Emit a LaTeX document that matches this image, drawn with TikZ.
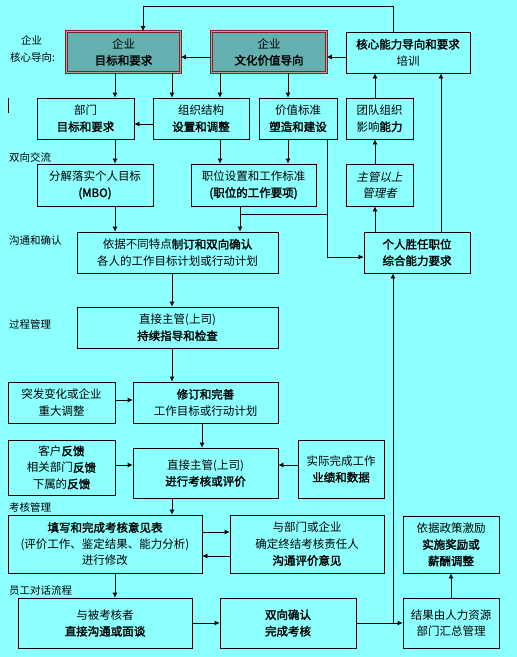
\documentclass[tikz,border=0pt]{standalone}
\usepackage{fontspec}
\setmainfont{Noto Sans CJK SC}[AutoFakeBold=2,AutoFakeSlant=0.2]
\usetikzlibrary{arrows.meta}
\definecolor{bgc}{RGB}{140,255,255}
\definecolor{tealf}{RGB}{100,176,176}
\definecolor{dred}{RGB}{128,32,40}
\definecolor{gborder}{RGB}{168,168,168}
\begin{document}
\begin{tikzpicture}[x=1pt,y=-1pt,
  box/.style={draw, line width=0.8pt, align=center, inner sep=0pt, font=\fontsize{11.5}{16.5}\selectfont},
  core/.style={box, fill=tealf, draw=dred, double=gborder, double distance=1.3pt, line width=1pt},
  arr/.style={-{Latex[length=5pt,width=5pt]}, line width=0.8pt},
  ln/.style={line width=0.8pt},
  lab/.style={anchor=west, inner sep=0pt, font=\fontsize{10.5}{12}\selectfont}]
\fill[bgc] (0,0) rectangle (517,657);
\useasboundingbox (0,0) rectangle (517,657);

% side labels
\node[lab] (l1) at (21,40) {企业};
\node[lab] (l2) at (10,57) {核心导向:};
\node[lab] (l3) at (9,157) {双向交流};
\node[lab] (l4) at (9,240) {沟通和确认};
\node[lab] (l5) at (9,324) {过程管理};
\node[lab] (l6) at (9,507) {考核管理};
\node[lab] (l7) at (9,591) {员工对话流程};
\draw[line width=1.6pt] (8.5,98) -- (8.5,113);

% boxes
\node[core, minimum width=113.7pt, minimum height=40.7pt] (n1) at (123.5,52) {企业\\\textbf{目标和要求}};
\node[core, minimum width=114.7pt, minimum height=40.7pt] (n2) at (269,52) {企业\\\textbf{文化价值导向}};
\node[box, minimum width=124pt, minimum height=41pt] (n3) at (408,52.5) {\textbf{核心能力导向和要求}\\培训};
\node[box, minimum width=97pt, minimum height=41pt] (n4) at (85.5,118.5) {部门\\\textbf{目标和要求}};
\node[box, minimum width=96pt, minimum height=41pt] (n5) at (201,118.5) {组织结构\\\textbf{设置和调整}};
\node[box, minimum width=78pt, minimum height=41pt] (n6) at (298,118.5) {价值标准\\\textbf{塑造和建设}};
\node[box, minimum width=67pt, minimum height=41pt] (n7) at (379.5,118.5) {团队组织\\影响\textbf{能力}};
\node[box, minimum width=116pt, minimum height=42pt] (n8) at (95,185) {分解落实个人目标\\\textbf{(MBO)}};
\node[box, minimum width=125pt, minimum height=42pt] (n9) at (253.5,185) {职位设置和工作标准\\\textbf{(职位的工作要项)}};
\node[box, minimum width=67pt, minimum height=42pt] (n10) at (379.5,185) {\textit{主管以上}\\\textit{管理者}};
\node[box, minimum width=201pt, minimum height=41pt] (n11) at (177.5,252.5) {依据不同特点\textbf{制订和双向确认}\\各人的工作目标计划或行动计划};
\node[box, minimum width=106pt, minimum height=41pt] (n12) at (417,252.5) {\textbf{个人胜任职位}\\\textbf{综合能力要求}};
\node[box, minimum width=201pt, minimum height=41pt] (n13) at (177.5,327.5) {直接主管(上司)\\\textbf{持续指导和检查}};
\node[box, minimum width=107pt, minimum height=41pt] (n14) at (61.5,402.5) {突发变化或企业\\重大调整};
\node[box, minimum width=145pt, minimum height=41pt] (n15) at (205.5,402.5) {\textbf{修订和完善}\\工作目标或行动计划};
\node[box, minimum width=107pt, minimum height=55pt] (n16) at (61.5,467.5) {客户\textbf{反馈}\\相关部门\textbf{反馈}\\下属的\textbf{反馈}};
\node[box, minimum width=145pt, minimum height=50pt] (n17) at (205.5,473) {直接主管(上司)\\\textbf{进行考核或评价}};
\node[box, minimum width=86pt, minimum height=58pt] (n18) at (341,469) {实际完成工作\\\textbf{业绩和数据}};
\node[box, minimum width=194pt, minimum height=58pt] (n19) at (105,544) {\textbf{填写和完成考核意见表}\\(评价工作、鉴定结果、能力分析)\\进行修改};
\node[box, minimum width=154pt, minimum height=58pt] (n20) at (307,544) {与部门或企业\\确定终结考核责任人\\\textbf{沟通评价意见}};
\node[box, minimum width=96pt, minimum height=57pt] (n21) at (451,544.5) {依据政策激励\\\textbf{实施奖励或}\\\textbf{薪酬调整}};
\node[box, minimum width=174pt, minimum height=50pt] (n22) at (105,623) {与被考核者\\\textbf{直接沟通或面谈}};
\node[box, minimum width=136pt, minimum height=50pt] (n23) at (288,623) {\textbf{双向确认}\\\textbf{完成考核}};
\node[box, minimum width=96pt, minimum height=50pt] (n24) at (451,623) {结果由人力资源\\部门汇总管理};

% helper coordinates
\coordinate (X115) at (115,0);
\coordinate (X172) at (172,0);
\coordinate (X202) at (202,0);
\coordinate (X220) at (220,0);
\coordinate (X240) at (240,0);
\coordinate (X288) at (288,0);
\coordinate (X327) at (327,0);
\coordinate (X375) at (375,0);
\coordinate (X393) at (393,0);
\coordinate (X441) at (441,0);
\coordinate (X451) at (451,0);
\coordinate (Y57) at (0,57);
\coordinate (Y124) at (0,124);
\coordinate (Y214) at (0,214);
\coordinate (Y257) at (0,257);
\coordinate (Y400) at (0,400);
\coordinate (Y465) at (0,465);
\coordinate (Y532) at (0,532);
\coordinate (Y556) at (0,556);
\coordinate (Y623) at (0,623);
\coordinate (topL) at (143,6);
\coordinate (topR) at (393,6);

% connectors
\draw[arr] (n3.north -| topR) -- (topR) -- (topL) -- (n1.north -| topL);
\draw[arr] (n2.west |- Y57) -- (n1.east |- Y57);
\draw[arr] (n3.west |- Y57) -- (n2.east |- Y57);
\draw[arr] (n1.south -| X115) -- (n4.north -| X115);
\draw[arr] (n1.south -| X172) -- (n5.north -| X172);
\draw[arr] (n2.south -| X220) -- (n5.north -| X220);
\draw[arr] (n2.south -| X288) -- (n6.north -| X288);
\draw[arr] (n5.west |- Y124) -- (n4.east |- Y124);
\draw[arr] (n7.north -| X375) -- (n3.south -| X375);
\draw[arr] (n12.north -| X441) -- (n3.south -| X441);
\draw[arr] (n10.north -| X375) -- (n7.south -| X375);
\draw[arr] (n12.north -| X375) -- (n10.south -| X375);
\draw[arr] (n4.south -| X115) -- (n8.north -| X115);
\draw[arr] (n5.south -| X220) -- (n9.north -| X220);
\draw[arr] (n6.south -| X288) -- (n9.north -| X288);
\draw[arr] (n6.south -| X327) -- (X327 |- Y257) -- (n12.west |- Y257);
\draw[arr] (n9.south -| X240) -- (n11.north -| X240);
\draw[ln] (X240 |- Y214) -- (X327 |- Y214);
\draw[arr] (n8.south -| X115) -- (n11.north -| X115);
\draw[arr] (n11.south -| X172) -- (n13.north -| X172);
\draw[arr] (n13.south -| X172) -- (n15.north -| X172);
\draw[arr] (n14.east |- Y400) -- (n15.west |- Y400);
\draw[arr] (n15.south -| X202) -- (n17.north -| X202);
\draw[arr] (n16.east |- Y465) -- (n17.west |- Y465);
\draw[arr] (n18.west |- Y465) -- (n17.east |- Y465);
\draw[arr] (n17.south -| X172) -- (n19.north -| X172);
\draw[arr] (n19.east |- Y532) -- (n20.west |- Y532);
\draw[arr] (n20.west |- Y556) -- (n19.east |- Y556);
\draw[arr] (n19.south -| X115) -- (n22.north -| X115);
\draw[arr] (n22.east |- Y623) -- (n23.west |- Y623);
\draw[arr] (n23.east |- Y623) -- (n24.west |- Y623);
\draw[arr] (X393 |- Y623) -- (n12.south -| X393);
\draw[arr] (n24.north -| X451) -- (n21.south -| X451);
\end{tikzpicture}
\end{document}
